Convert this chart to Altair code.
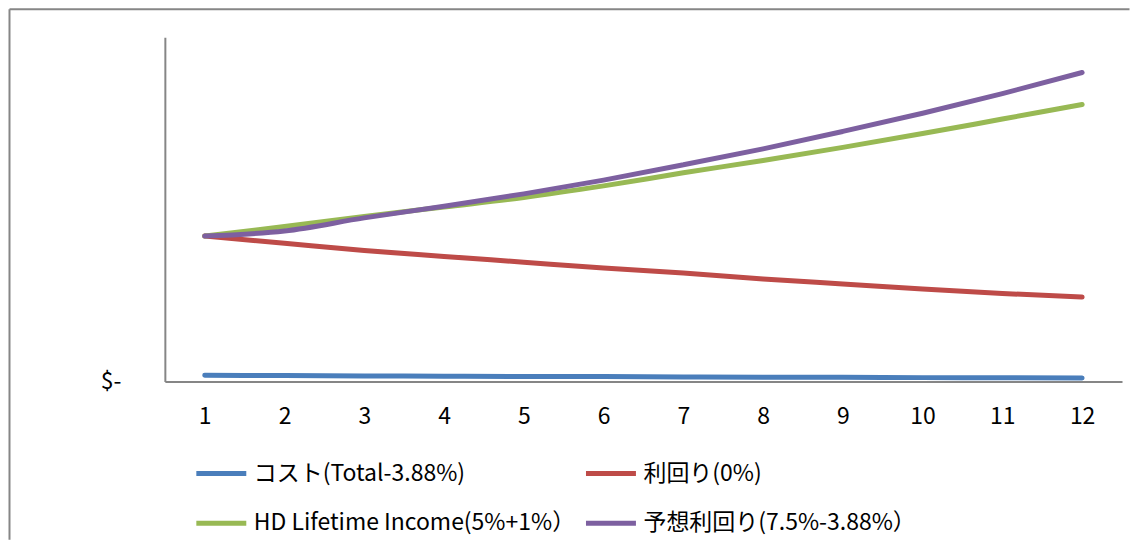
import altair as alt
import pandas as pd

periods = list(range(1, 13))
series_names = [
    "コスト(Total-3.88%)",
    "利回り(0%)",
    "HD Lifetime Income(5%+1%）",
    "予想利回り(7.5%-3.88%）",
]
cost = [4.2, 4.0, 3.8, 3.6, 3.4, 3.3, 3.1, 2.9, 2.8, 2.6, 2.5, 2.3]
yield0 = [100, 95, 90, 86, 82, 78, 74.5, 70.5, 67, 63.5, 60.5, 58]
hd = [100, 106.5, 113.5, 120, 126.5, 134.5, 143.5, 152, 161, 170.5, 180.5, 190.5]
expected = [100, 103.5, 112.5, 120.5, 129, 138.5, 149, 160, 172, 184.5, 198, 212.5]
colors = ["#4A7EBB", "#BE4B48", "#98B954", "#7D60A0"]

rows = []
for name, vals in zip(series_names, [cost, yield0, hd, expected]):
    for p, v in zip(periods, vals):
        rows.append({"period": p, "value": v, "series": name})
df = pd.DataFrame(rows)

FONT = "Noto Sans CJK JP"
GRAY = "#868686"
W, H = 958, 344.5

lines = alt.Chart(df).mark_line(
    strokeWidth=5, strokeCap="round", strokeJoin="round", interpolate="monotone"
).encode(
    x=alt.X(
        "period:Q",
        scale=alt.Scale(domain=[0.5, 12.5], nice=False, zero=False),
        axis=alt.Axis(
            values=periods, title=None, grid=False, ticks=False, tickSize=0,
            labelPadding=35, labelBaseline="middle", labelOverlap=False,
            labelFlush=False, domainColor=GRAY, domainWidth=2,
            labelFontSize=23, labelColor="#000000", labelFont=FONT,
        ),
    ),
    y=alt.Y(
        "value:Q",
        scale=alt.Scale(domain=[0, 236.8], nice=False),
        axis=alt.Axis(
            values=[0], labelExpr="'$-'", title=None, grid=False, ticks=False,
            tickSize=0, labelPadding=44, domainColor=GRAY, domainWidth=2,
            labelFontSize=23, labelColor="#000000", labelFont=FONT,
        ),
    ),
    color=alt.Color(
        "series:N",
        scale=alt.Scale(domain=series_names, range=colors),
        sort=series_names,
        legend=alt.Legend(
            title=None, orient="none", direction="horizontal",
            legendX=29, legendY=409, columns=2,
            symbolType="stroke", symbolSize=2500, symbolStrokeWidth=5,
            labelFontSize=23, labelFont=FONT, labelColor="#000000",
            labelOffset=5, labelLimit=600, columnPadding=0, rowPadding=10,
            padding=0,
        ),
    ),
)

frame = alt.Chart(alt.Data(values=[{}])).mark_rule(color=GRAY, strokeWidth=2)
top_rule = frame.encode(x=alt.value(-155.5), x2=alt.value(965.5), y=alt.value(-28))
left_rule = frame.encode(x=alt.value(-155.5), y=alt.value(-28), y2=alt.value(503))

chart = alt.layer(lines, top_rule, left_rule).properties(
    width=W, height=H, padding=0
).configure_view(stroke=None)

chart.save("out.html", embed_options={"renderer": "svg", "actions": False})
